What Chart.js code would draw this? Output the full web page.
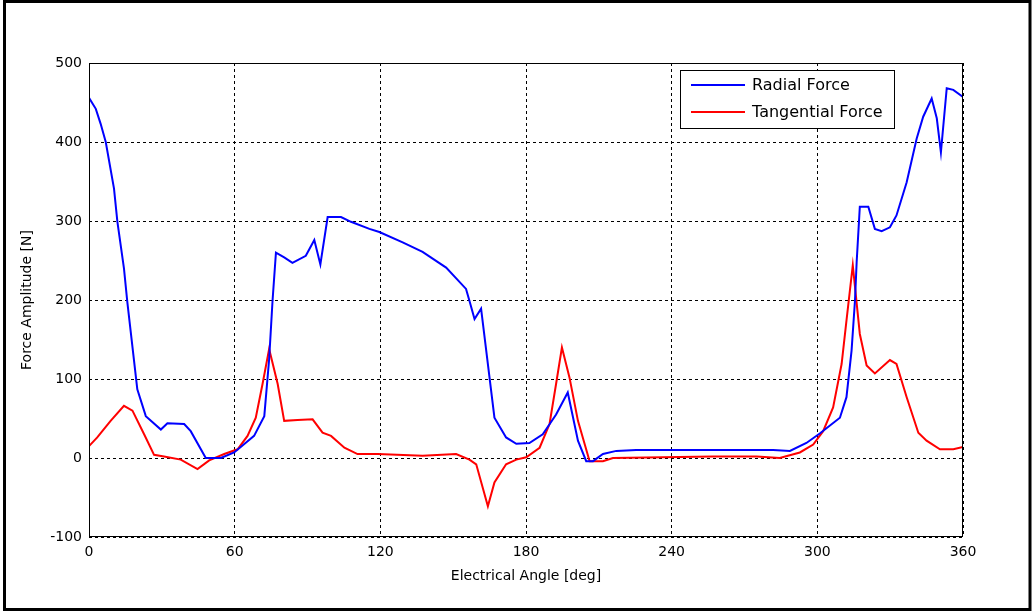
<!DOCTYPE html>
<html>
<head>
<meta charset="utf-8">
<script src="https://cdn.jsdelivr.net/npm/chart.js@4/dist/chart.umd.min.js"></script>
<style>
  html, body { margin: 0; padding: 0; background: #fff; }
  canvas { display: block; }
</style>
</head>
<body>
<canvas id="forceChart" width="1034" height="612"></canvas>
<script>
// values
const radialAngle = [0, 2.8, 4.8, 6.9, 10.3, 11.7, 14.4, 15.8, 19.9, 23.4, 29.6, 32.3, 39.2, 41.9, 48.1, 54.3, 59.8, 68, 72.2, 74.2, 75.6, 77,
  80.4, 83.8, 89.3, 92.8, 95.3, 98.3, 103.8, 107.9, 115.5, 119.6, 129.2, 137.4, 147.1, 155.3, 156.7, 158.8, 161.5, 167, 171.8, 176,
  181.4, 186.9, 192.4, 197.2, 201.4, 204.8, 207.6, 211.7, 217.2, 225.4, 281.8, 288.7, 295.5, 301, 309.3, 312, 314.1, 315.5, 316.2,
  317.5, 321, 323.7, 326.5, 329.9, 332.6, 336.8, 340.9, 343.6, 347.1, 349.2, 350.9, 353.3, 356, 360];
const radialForce = [456, 442, 423, 400, 341, 299, 240, 197, 87, 53, 36, 44, 43, 34, 0, 0, 7, 28, 53, 125, 199, 260,
  254, 247, 256, 276, 245, 305, 305, 299, 290, 286, 273, 261, 241, 214, 199, 176, 189, 51, 26, 18,
  19, 30, 55, 83, 22, -4, -4, 5, 9, 10, 10, 9, 19, 31, 51, 77, 136, 199, 248,
  318, 318, 290, 287, 292, 307, 349, 404, 432, 455, 430, 387, 468, 466, 457];

const tangAngle = [0, 3.4, 8.9, 14.4, 17.9, 22.7, 26.8, 30.9, 37.8, 44.7, 49.5, 55.7, 61.2, 65.3, 68.7, 71.5, 74.2, 77.7, 80.4,
  85.9, 92.1, 96.2, 99.7, 105.2, 110.6, 118.9, 137.4, 151.2, 156.7, 159.5, 164.3, 167, 171.8, 176, 180.1, 185.6, 189.7,
  192.4, 194.8, 197.9, 201.4, 206.2, 211.7, 215.8, 257, 275, 284.5, 292.8, 298.3, 302.4, 306.5, 310, 312, 314.6, 317.5,
  320.3, 323.7, 329.9, 332.6, 336.8, 341.6, 345, 350.5, 356, 360];
const tangForce = [15, 26, 47, 66, 60, 30, 4, 2, -2, -14, -3, 5, 11, 28, 51, 94, 138, 94, 47,
  48, 49, 32, 28, 13, 5, 5, 3, 5, -2, -8, -61, -31, -8, -2, 1, 13, 43,
  94, 140, 102, 47, -4, -4, 0, 2, 2, 0, 7, 17, 34, 64, 119, 174, 244, 157,
  117, 107, 124, 119, 77, 32, 22, 11, 11, 14];

const angleTicks = [0, 60, 120, 180, 240, 300, 360];
const forceTicks = [-100, 0, 100, 200, 300, 400, 500];

const seriesNames = ["Radial Force", "Tangential Force"];
const seriesColors = ["#0000ff", "#ff0000"];

const toPoints = (xs, ys) => xs.map((x, i) => ({ x: x, y: ys[i] }));

Chart.defaults.font.family = "'DejaVu Sans', sans-serif";
Chart.defaults.font.size = 14;
Chart.defaults.color = "#000";

// outer frame, plot box and legend box
const framePlugin = {
  id: "frame",
  beforeDraw(chart) {
    const ctx = chart.ctx;
    ctx.save();
    ctx.fillStyle = "#fff";
    ctx.fillRect(0, 0, chart.width, chart.height);
    ctx.restore();
  },
  afterDraw(chart) {
    const ctx = chart.ctx;
    const a = chart.chartArea;
    ctx.save();
    ctx.strokeStyle = "#000";
    ctx.lineWidth = 1;
    ctx.strokeRect(Math.round(a.left) + 0.5, Math.round(a.top) + 0.5,
      Math.round(a.right - a.left) - 1, Math.round(a.bottom - a.top) - 1);
    ctx.lineWidth = 3;
    ctx.strokeRect(4.5, 1.5, 1025.5, 608);

    // legend
    const lx = 680, ly = 70, lw = 214, lh = 58;
    ctx.fillStyle = "#fff";
    ctx.fillRect(lx, ly, lw, lh);
    ctx.lineWidth = 1;
    ctx.strokeRect(lx + 0.5, ly + 0.5, lw, lh);
    ctx.font = "16px 'DejaVu Sans', sans-serif";
    ctx.textBaseline = "middle";
    chart.data.datasets.forEach((ds, i) => {
      const y = ly + 15 + i * 27;
      ctx.strokeStyle = ds.borderColor;
      ctx.lineWidth = 2;
      ctx.beginPath();
      ctx.moveTo(lx + 11, y);
      ctx.lineTo(lx + 65, y);
      ctx.stroke();
      ctx.fillStyle = "#000";
      ctx.fillText(ds.label, lx + 72, y + 1);
    });
    ctx.restore();
  },
};

new Chart(document.getElementById("forceChart"), {
  type: "line",
  data: {
    datasets: [
      {
        label: seriesNames[0],
        data: toPoints(radialAngle, radialForce),
        borderColor: seriesColors[0],
        borderWidth: 2,
        pointRadius: 0,
        tension: 0,
      },
      {
        label: seriesNames[1],
        data: toPoints(tangAngle, tangForce),
        borderColor: seriesColors[1],
        borderWidth: 2,
        pointRadius: 0,
        tension: 0,
      },
    ],
  },
  options: {
    responsive: false,
    animation: false,
    layout: { padding: { top: 63, right: 71, left: 0, bottom: 0 } },
    scales: {
      x: {
        type: "linear",
        min: 0,
        max: 360,
        afterBuildTicks: (scale) => { scale.ticks = angleTicks.map((v) => ({ value: v })); },
        afterFit: (scale) => { scale.height = 75; },
        ticks: { padding: 7, maxRotation: 0, autoSkip: false },
        grid: { color: "#000", lineWidth: 1, drawTicks: false },
        border: { display: false, dash: [3, 3] },
        title: { display: true, text: "Electrical Angle [deg]", padding: { bottom: 27 } },
      },
      y: {
        type: "linear",
        min: -100,
        max: 500,
        afterBuildTicks: (scale) => { scale.ticks = forceTicks.map((v) => ({ value: v })); },
        afterFit: (scale) => { scale.width = 89; },
        ticks: { padding: 7, autoSkip: false },
        grid: { color: "#000", lineWidth: 1, drawTicks: false },
        border: { display: false, dash: [3, 3] },
        title: { display: true, text: "Force Amplitude [N]", padding: { top: 19 } },
      },
    },
    plugins: {
      legend: { display: false },
      tooltip: { enabled: false },
    },
  },
  plugins: [framePlugin],
});
</script>
</body>
</html>
